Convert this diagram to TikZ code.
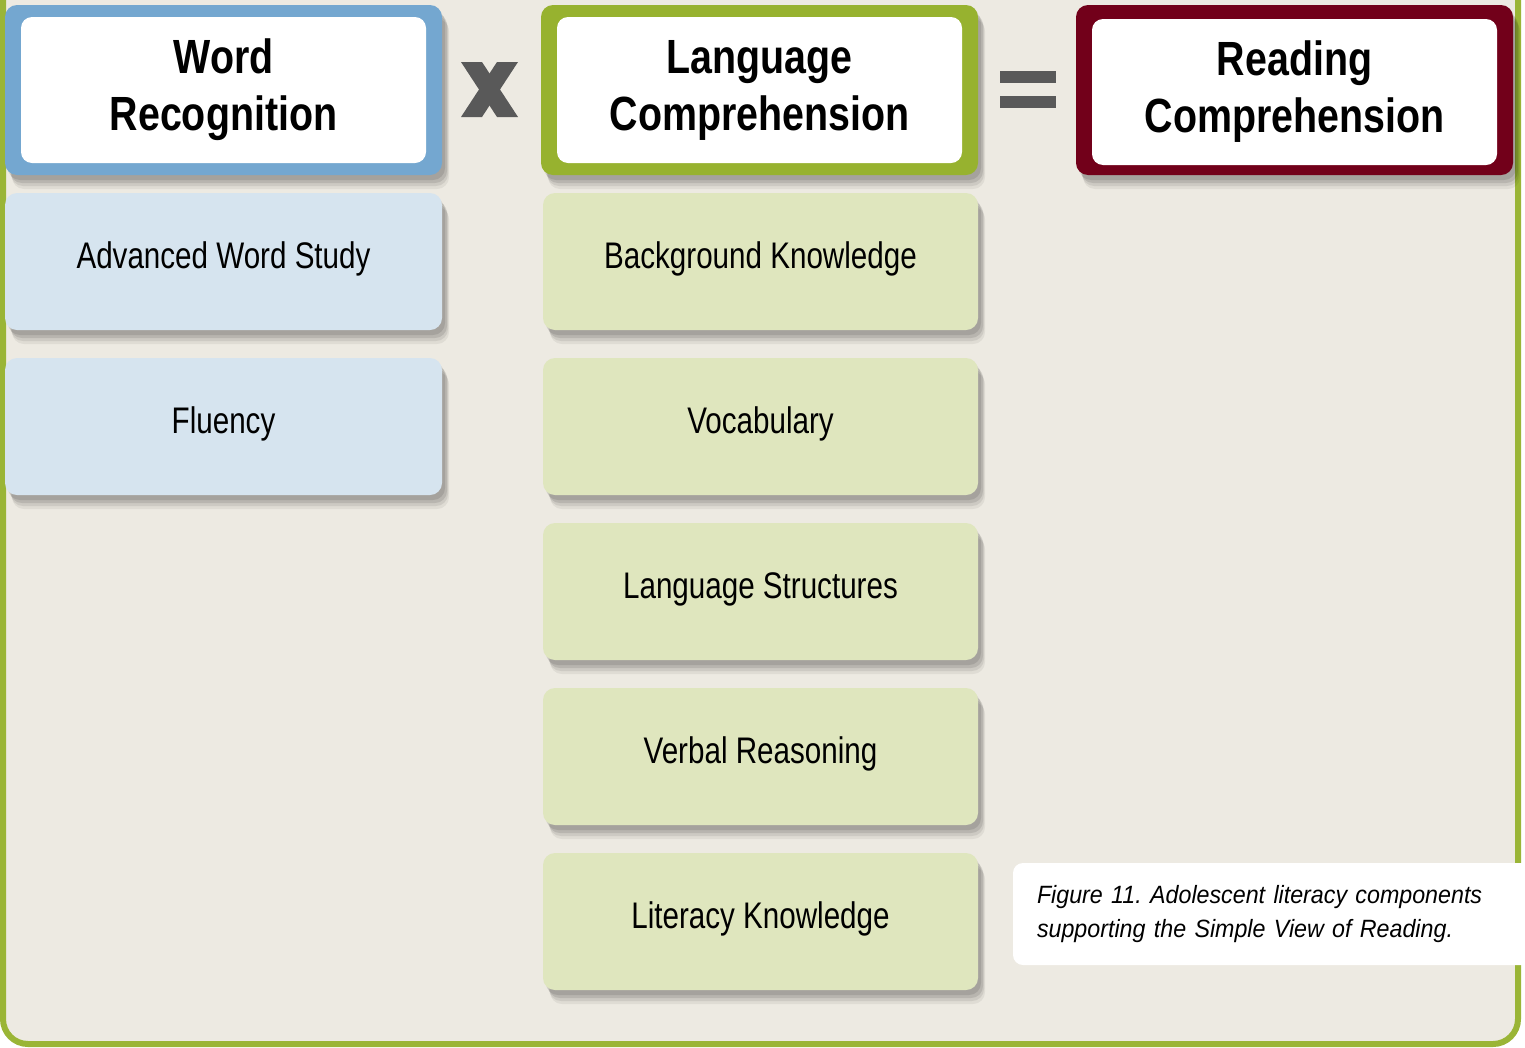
\documentclass[tikz,border=0pt]{standalone}
\usepackage{fontspec}
\setmainfont[FakeStretch=0.8]{Liberation Sans}
\newfontfamily\headfont[FakeStretch=0.82]{Liberation Sans}
\newfontfamily\capfont[FakeStretch=0.93]{Liberation Sans}
\usetikzlibrary{shadows}
\definecolor{bgbeige}{HTML}{EDEAE2}
\definecolor{framegreen}{HTML}{9AB536}
\definecolor{wrblue}{HTML}{74A7D0}
\definecolor{lcgreen}{HTML}{97B22F}
\definecolor{rcred}{HTML}{72001A}
\definecolor{subblue}{HTML}{D6E4EF}
\definecolor{subgreen}{HTML}{DFE6BE}
\definecolor{opgray}{HTML}{595959}
\frenchspacing
\begin{document}
\begin{tikzpicture}[x=1pt,y=-1pt,
  softshadow/.style={
    drop shadow={shadow xshift=7pt, shadow yshift=-14pt, opacity=0.06, fill=black},
    drop shadow={shadow xshift=6pt, shadow yshift=-11pt, opacity=0.08, fill=black},
    drop shadow={shadow xshift=5pt, shadow yshift=-8pt, opacity=0.10, fill=black},
    drop shadow={shadow xshift=3pt, shadow yshift=-5pt, opacity=0.10, fill=black}},
  outerbox/.style={rectangle, rounded corners=12pt, minimum width=437pt, minimum height=170pt, inner sep=0pt, softshadow},
  innerbox/.style={rectangle, rounded corners=11pt, fill=white, minimum width=405pt, minimum height=146pt, inner sep=0pt,
    font=\headfont\bfseries\fontsize{48}{57}\selectfont, align=center},
  subbox/.style={rectangle, rounded corners=12pt, minimum height=137pt, inner sep=0pt,
    text height=27pt, text depth=14pt, font=\fontsize{37}{44}\selectfont, softshadow},
  bluesub/.style={subbox, fill=subblue, minimum width=437pt},
  greensub/.style={subbox, fill=subgreen, minimum width=435pt},
  opsign/.style={fill=opgray},
]
\clip (0,0) rectangle (1525,1047);
\fill[white] (0,0) rectangle (1525,1047);
% panel
\fill[bgbeige, rounded corners=25pt] (3,-60) -- (3,1044) -- (1518,1044) -- (1518,-60) -- cycle;
\draw[framegreen, line width=6pt, rounded corners=25pt] (3,-60) -- (3,1044) -- (1518,1044) -- (1518,-60);

% header boxes
\node[outerbox, fill=wrblue] (wrout) at (223.5,90) {};
\node[innerbox] (wr) at (223.5,90) {Word\\Recognition};
\node[outerbox, fill=lcgreen] (lcout) at (759.5,90) {};
\node[innerbox] (lc) at (759.5,90) {Language\\Comprehension};
\node[outerbox, fill=rcred] (rcout) at (1294.5,90) {};
\node[innerbox] (rc) at (1294.5,92) {Reading\\Comprehension};

% operator signs
\fill[opsign] (461,62) -- (482,62) -- (518,117) -- (497,117) -- cycle;
\fill[opsign] (497,62) -- (518,62) -- (482,117) -- (461,117) -- cycle;
\fill[opsign] (1000,71) rectangle (1056,83);
\fill[opsign] (1000,96) rectangle (1056,108);

% word recognition components
\node[bluesub] (aws) at (223.5,261.5) {Advanced Word Study};
\node[bluesub] (flu) at (223.5,426.5) {Fluency};

% language comprehension components
\node[greensub] (bk) at (760.5,261.5) {Background Knowledge};
\node[greensub] (voc) at (760.5,426.5) {Vocabulary};
\node[greensub] (ls) at (760.5,591.5) {Language Structures};
\node[greensub] (vr) at (760.5,756.5) {Verbal Reasoning};
\node[greensub] (lk) at (760.5,921.5) {Literacy Knowledge};

% caption
\node[rectangle, rounded corners=10pt, fill=white, minimum width=527pt, minimum height=102pt,
  inner xsep=24pt, inner ysep=0pt, text width=479pt, align=left,
  font=\capfont\itshape\fontsize{25}{34}\selectfont] (cap) at (1276.5,914)
  {Figure 11. Adolescent literacy components\\supporting the Simple View of Reading.};
\end{tikzpicture}
\end{document}
